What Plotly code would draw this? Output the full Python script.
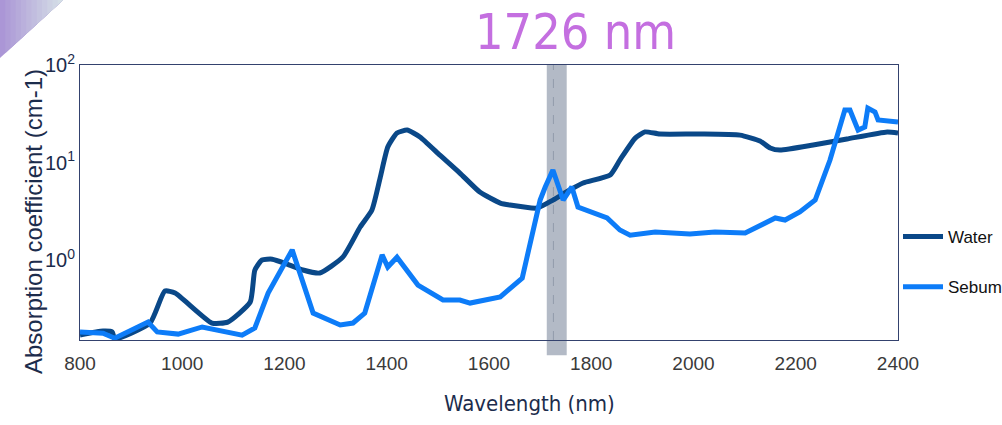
import plotly.graph_objects as go

# ---------------- data ----------------
water_nm = [800, 845, 863, 868, 937, 966, 986, 1058, 1089, 1133, 1142, 1156, 1176, 1205,
            1236, 1269, 1314, 1348, 1371, 1387, 1402, 1420, 1440, 1465, 1504, 1543, 1582,
            1622, 1641, 1694, 1725, 1758, 1784, 1837, 1856, 1886, 1905, 1934, 2013, 2091,
            2130, 2150, 2169, 2234, 2300, 2379, 2400]
water_val = [0.170, 0.187, 0.183, 0.155, 0.226, 0.481, 0.459, 0.226, 0.231, 0.371, 0.789,
             1.00, 1.02, 0.91, 0.79, 0.736, 1.07, 2.18, 3.26, 6.93, 14.4, 20.1, 21.5, 18.3,
             11.9, 7.80, 4.98, 3.84, 3.66, 3.41, 4.12, 5.22, 6.16, 7.45, 10.6, 17.8, 20.6,
             19.6, 19.6, 19.1, 16.6, 14.1, 13.4, 15.1, 17.4, 20.6, 20.1]

sebum_nm = [800, 845, 868, 933, 951, 992, 1039, 1117, 1142, 1168, 1215, 1256, 1309, 1334,
            1357, 1391, 1402, 1420, 1461, 1510, 1543, 1563, 1622, 1665, 1674, 1700, 1710,
            1725, 1745, 1762, 1774, 1803, 1831, 1856, 1876, 1925, 1993, 2042, 2101, 2160,
            2179, 2208, 2238, 2267, 2296, 2306, 2322, 2335, 2341, 2355, 2361, 2400]
sebum_val = [0.183, 0.178, 0.158, 0.231, 0.183, 0.174, 0.206, 0.170, 0.201, 0.459, 1.27,
             0.286, 0.216, 0.226, 0.286, 1.13, 0.848, 1.07, 0.554, 0.389, 0.389, 0.362,
             0.418, 0.654, 1.05, 4.12, 5.61, 8.38, 4.12, 5.61, 3.50, 3.03, 2.70, 2.03,
             1.80, 1.94, 1.85, 1.94, 1.89, 2.70, 2.57, 3.11, 4.12, 10.6, 34.5, 34.5, 21.5,
             23.1, 36.2, 33.0, 27.3, 26.0]

x_ticks = [800, 1000, 1200, 1400, 1600, 1800, 2000, 2200, 2400]
y_ticks = [1, 10, 100]
y_ticktext = ["10<sup>0</sup>", "10<sup>1</sup>", "10<sup>2</sup>"]

highlight_nm = 1726
band_lo, band_hi = 1713, 1752

WATER = "#0a4888"
SEBUM = "#0d7cf8"
NAVY = "#1c2c4c"

fig = go.Figure()
fig.add_trace(go.Scatter(x=water_nm, y=water_val, mode="lines", name="Water",
                         legendgroup="w",
                         line=dict(color=WATER, width=5, shape="spline", smoothing=0.5)))
fig.add_trace(go.Scatter(x=sebum_nm, y=sebum_val, mode="lines", name="Sebum",
                         legendgroup="s",
                         line=dict(color=SEBUM, width=5)))

shapes = []
# highlight band
shapes.append(dict(type="rect", xref="x", yref="paper", x0=band_lo, x1=band_hi,
                   y0=-0.055, y1=1.0, fillcolor="#b3bac6", line_width=0, layer="below"))
shapes.append(dict(type="line", xref="x", yref="paper", x0=highlight_nm, x1=highlight_nm,
                   y0=0, y1=1, line=dict(color="#939cab", width=1, dash="dash"), layer="below"))

# decorative gradient triangle at top-left (paper coords)
def px2p(px, py):
    return (px - 80) / 818, (340 - py) / 275

def lerp(c1, c2, t):
    a = [int(c1[i:i + 2], 16) for i in (1, 3, 5)]
    b = [int(c2[i:i + 2], 16) for i in (1, 3, 5)]
    return "#" + "".join(f"{round(a[k] + (b[k] - a[k]) * t):02x}" for k in range(3))

n = 12
W, H = 63.0, 58.0
for i in range(n):
    a = W * i / n
    pts = [(a, 0), (W, 0), (a, H * (1 - a / W))]
    pp = [px2p(x, y) for x, y in pts]
    path = "M " + " L ".join(f"{x:.5f},{y:.5f}" for x, y in pp) + " Z"
    shapes.append(dict(type="path", xref="paper", yref="paper", path=path,
                       fillcolor=lerp("#ab96d6", "#d4dee6", i / (n - 1)), line_width=0))

fx, fy = px2p(575, 32)
wx, wy = px2p(529, 403)
ax_, ay_ = px2p(33, 222)

fig.update_layout(
    width=1002, height=425,
    margin=dict(l=80, r=104, t=65, b=85, autoexpand=False),
    paper_bgcolor="white", plot_bgcolor="white",
    shapes=shapes,
    showlegend=True,
    legend=dict(x=1.0, y=0.44, xanchor="left", yanchor="top",
                font=dict(family="Liberation Sans", size=17, color="#111111"),
                tracegroupgap=25, itemwidth=40, bgcolor="rgba(0,0,0,0)"),
    annotations=[
        dict(text="1726 nm", xref="paper", yref="paper", x=fx, y=fy,
             xanchor="center", yanchor="middle", showarrow=False,
             font=dict(family="DejaVu Sans Condensed, DejaVu Sans", size=50, color="#c46fe0")),
        dict(text="Wavelength (nm)", xref="paper", yref="paper", x=wx, y=wy,
             xanchor="center", yanchor="middle", showarrow=False,
             font=dict(family="DejaVu Sans Condensed, DejaVu Sans", size=22, color=NAVY)),
        dict(text="Absorption coefficient (cm-1)", xref="paper", yref="paper", x=ax_, y=ay_,
             xanchor="center", yanchor="middle", showarrow=False, textangle=-90,
             font=dict(family="Liberation Sans", size=24, color=NAVY)),
    ],
)

fig.update_xaxes(range=[800, 2400], tickvals=x_ticks, showgrid=False, zeroline=False,
                 showline=True, mirror=True, linecolor="#34426e", linewidth=1,
                 ticks="", ticklabelstandoff=6,
                 tickfont=dict(family="Liberation Sans", size=19, color="#3a3a3a"))
fig.update_yaxes(type="log", range=[-0.82, 2.0], tickvals=y_ticks, ticktext=y_ticktext,
                 showgrid=False, zeroline=False, showline=True, mirror=True,
                 linecolor="#34426e", linewidth=1, ticks="",
                 tickfont=dict(family="Liberation Sans", size=20, color=NAVY))

fig.write_html("out.html", config={"displayModeBar": False},
               post_script="document.body.style.margin='0';")
